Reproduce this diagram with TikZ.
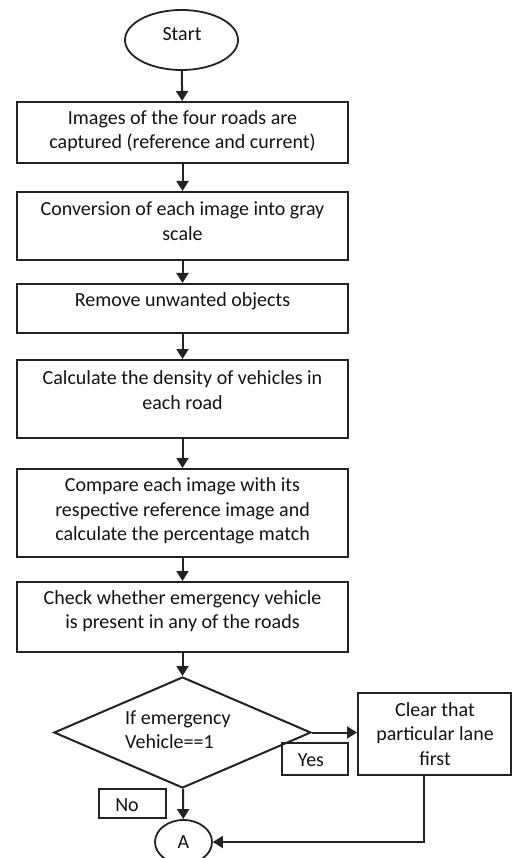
\documentclass[tikz,border=0pt]{standalone}
\usepackage{fontspec}
\setmainfont{Carlito}
\usetikzlibrary{shapes.geometric,arrows.meta}
\definecolor{ink}{HTML}{121218}
\definecolor{edge}{HTML}{222222}
\begin{document}
\begin{tikzpicture}[x=1pt,y=-1pt,
  font=\fontsize{20}{24.5}\selectfont,
  every node/.style={text=ink},
  box/.style={draw=edge,line width=2pt,rectangle,inner sep=0pt},
  txt/.style={align=center,inner sep=0pt},
  conn/.style={draw=edge,line width=2pt,-{Triangle[length=10pt,width=12pt]}},
  oval/.style={draw=edge,line width=1.8pt,ellipse,inner sep=0pt}]
\useasboundingbox (0,0) rectangle (512,858);
% start
\node[oval,minimum width=113pt,minimum height=60pt] (start) at (181.5,40) {};
\node[txt] (tstart) at (182,34) {Start};
% boxes
\node[box,minimum width=331pt,minimum height=61pt] (b1) at (182.5,132.5) {};
\node[txt] (t1) at (182.5,131) {Images of the four roads are\\captured (reference and current)};
\node[box,minimum width=331pt,minimum height=68pt] (b2) at (182.5,226) {};
\node[txt] (t2) at (182.5,221) {Conversion of each image into gray\\scale};
\node[box,minimum width=331pt,minimum height=49pt] (b3) at (182.5,308.5) {};
\node[txt] (t3) at (182.5,301) {Remove unwanted objects};
\node[box,minimum width=331pt,minimum height=78pt] (b4) at (182.5,399) {};
\node[txt] (t4) at (182.5,390) {Calculate the density of vehicles in\\each road};
\node[box,minimum width=331pt,minimum height=88pt] (b5) at (182.5,513) {};
\node[txt] (t5) at (182.5,511) {Compare each image with its\\respective reference image and\\calculate the percentage match};
\node[box,minimum width=331pt,minimum height=70pt] (b6) at (182.5,617) {};
\node[txt] (t6) at (182.5,611) {Check whether emergency vehicle\\is present in any of the roads};
% decision
\node[draw=edge,line width=2pt,diamond,aspect=2.3,minimum width=257pt,minimum height=111pt,inner sep=0pt] (dec) at (182.5,732.5) {};
\node[align=left,anchor=west,inner sep=0pt] (tdec) at (125,729.5) {If emergency\\Vehicle==1};
% clear
\node[box,minimum width=153pt,minimum height=82pt] (clr) at (434.5,734) {};
\node[txt] (tclr) at (435,734) {Clear that\\particular lane\\first};
% yes / no labels
\node[box,minimum width=66pt,minimum height=32pt] (yes) at (315,759) {};
\node[txt] (tyes) at (311,760) {Yes};
\node[box,minimum width=67pt,minimum height=29pt] (no) at (132.5,803.5) {};
\node[txt] (tno) at (127,805) {No};
% connector A
\node[oval,minimum width=57pt,minimum height=44pt] (A) at (183.5,842) {};
\node[txt] (tA) at (183.5,842) {A};
% connectors
\draw[conn] (start) -- (b1);
\draw[conn] (b1) -- (b2);
\draw[conn] (b2) -- (b3);
\draw[conn] (b3) -- (b4);
\draw[conn] (b4) -- (b5);
\draw[conn] (b5) -- (b6);
\draw[conn] (b6) -- (dec);
\draw[conn] (dec.east) -- (clr.west |- dec.east);
\draw[conn] (dec) -- (A);
\draw[conn] (clr.south -| 424,0) |- (A.east);
\end{tikzpicture}
\end{document}
